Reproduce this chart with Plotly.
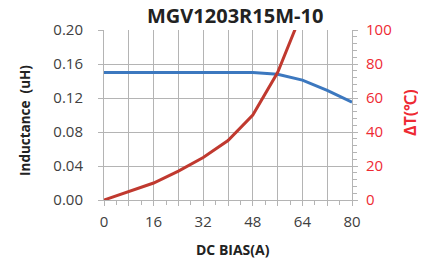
import plotly.graph_objects as go

bias_l = [0, 8, 16, 24, 32, 40, 48, 56, 64, 72, 80]
inductance = [0.150, 0.150, 0.150, 0.150, 0.150, 0.150, 0.150, 0.148, 0.141, 0.129, 0.115]
bias_t = [0, 8, 16, 24, 32, 40, 48, 56, 64]
delta_t = [0, 5, 10, 17, 25, 35, 50, 75, 111]

x_tickvals = [0, 8, 16, 24, 32, 40, 48, 56, 64, 72, 80]
x_ticktext = ["0", "", "16", "", "32", "", "48", "", "64", "", "80"]

BLUE = "#3c78bf"
RED = "#c0392f"
RED_TXT = "#ee2a33"
GRID = "#b4b4b4"
TXT = "#404040"
DARK = "#222222"
FONT = "Open Sans"

fig = go.Figure()
fig.add_trace(go.Scatter(x=bias_l, y=inductance, mode="lines",
                         line=dict(color=BLUE, width=3), yaxis="y", showlegend=False))
fig.add_trace(go.Scatter(x=bias_t, y=delta_t, mode="lines",
                         line=dict(color=RED, width=3), yaxis="y2", showlegend=False,
                         cliponaxis=True))

# page body has an 8px margin, so the figure is sized/offset accordingly
fig.update_layout(
    width=418, height=254,
    margin=dict(l=96, r=74, t=22, b=62, autoexpand=False),
    paper_bgcolor="white", plot_bgcolor="white",
    font=dict(family=FONT, color=TXT, size=15),
    xaxis=dict(range=[0, 80], tickvals=x_tickvals, ticktext=x_ticktext,
               showgrid=True, gridcolor=GRID, gridwidth=1, automargin=False,
               showline=True, linecolor=GRID, ticks="outside", ticklen=5,
               tickcolor=GRID, ticklabelstandoff=3,
               minor=dict(dtick=4, ticks="outside", ticklen=4, tickcolor=GRID, showgrid=False),
               zeroline=False),
    yaxis=dict(range=[0, 0.20], dtick=0.04, tickformat=".2f", automargin=False,
               showgrid=True, gridcolor=GRID, gridwidth=1,
               showline=True, linecolor=GRID, ticks="outside", ticklen=5,
               tickcolor=GRID, ticklabelstandoff=12, zeroline=False),
    yaxis2=dict(range=[0, 100], dtick=20, overlaying="y", side="right", automargin=False,
                showgrid=False, showline=True, linecolor=GRID, ticks="outside",
                ticklen=5, tickcolor=GRID, ticklabelstandoff=5, zeroline=False,
                tickfont=dict(color=RED_TXT, size=15),
                minor=dict(dtick=4, ticks="outside", ticklen=4, tickcolor=GRID)),
    annotations=[
        dict(text="<b>MGV1203R15M-10</b>", xref="paper", yref="paper", x=0.528, y=1.085,
             xanchor="center", yanchor="middle", showarrow=False,
             font=dict(size=20, color=DARK)),
        dict(text="<b>Inductance  (uH)</b>", xref="paper", yref="paper", x=-0.3185, y=0.465,
             xanchor="center", yanchor="middle", showarrow=False, textangle=-90,
             font=dict(size=13.5, color=DARK)),
        dict(text="<b>ΔT(℃)</b>", xref="paper", yref="paper", x=1.234, y=0.512,
             xanchor="center", yanchor="middle", showarrow=False, textangle=-90,
             font=dict(size=16, color=RED_TXT)),
        dict(text="<b>DC BIAS(A)</b>", xref="paper", yref="paper", x=0.522, y=-0.29,
             xanchor="center", yanchor="middle", showarrow=False,
             font=dict(size=14, color=DARK)),
    ],
)

fig.write_html("out.html")
